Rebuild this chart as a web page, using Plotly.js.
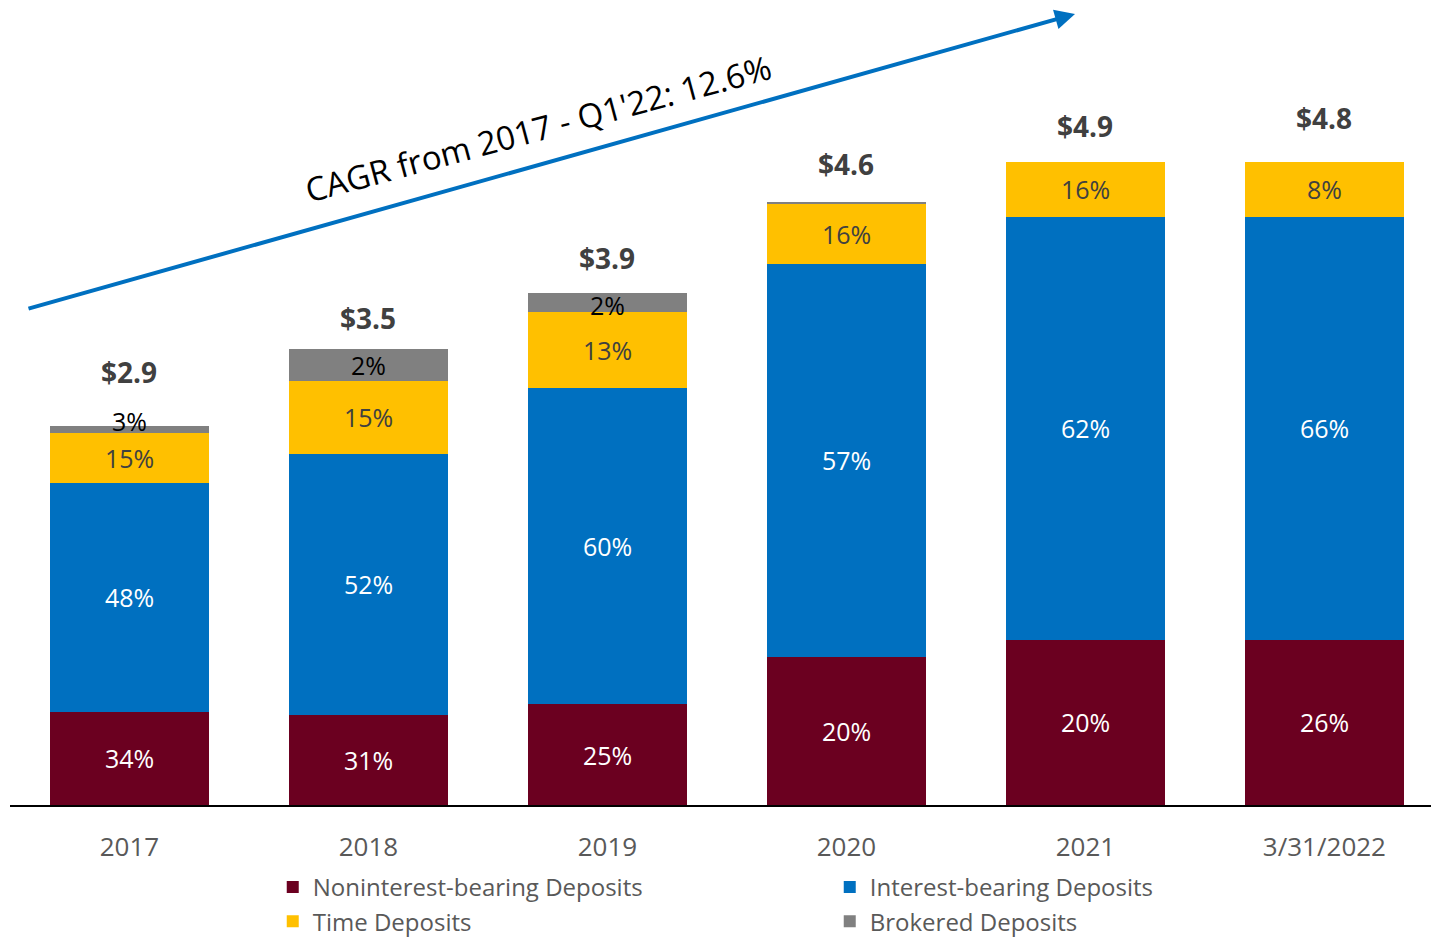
<!DOCTYPE html>
<html>
<head>
<meta charset="utf-8">
<script src="https://cdn.plot.ly/plotly-3.0.1.min.js"></script>
<style>html,body{margin:0;padding:0;background:#fff;}#chart{width:1431px;height:938px;}</style>
</head>
<body>
<div id="chart"></div>
<script>
// ---- data (billions of dollars) ----
const categories = ['2017', '2018', '2019', '2020', '2021', '3/31/2022'];
const nonInterest = [0.71, 0.69, 0.77, 1.13, 1.26, 1.26];
const interest    = [1.75, 1.99, 2.41, 3.00, 3.23, 3.23];
const timeDep     = [0.38, 0.56, 0.58, 0.46, 0.42, 0.42];
const brokered    = [0.05, 0.24, 0.15, 0.01, 0.00, 0.00];
const totalLabels = ['$2.9', '$3.5', '$3.9', '$4.6', '$4.9', '$4.8'];
const pctNonInterest = ['34%', '31%', '25%', '20%', '20%', '26%'];
const pctInterest    = ['48%', '52%', '60%', '57%', '62%', '66%'];
const pctTime        = ['15%', '15%', '13%', '16%', '16%', '8%'];
const pctBrokered    = ['3%', '2%', '2%', '', '', ''];
const seriesNames = ['Noninterest-bearing Deposits', 'Interest-bearing Deposits', 'Time Deposits', 'Brokered Deposits'];
const cagrText = "CAGR from 2017 - Q1'22: 12.6%";

// ---- styles ----
const colors = ['#6B0020', '#0070C0', '#FFC000', '#808080'];
const labelColors = ['#FFFFFF', '#FFFFFF', '#404040', '#000000'];
const FONT = '"Open Sans", "Noto Sans", sans-serif';
const totalShift = [54, 31, 35, 38, 36, 44];
const brokeredShift = [9, 0, -2, 0, 0, 0];

const series = [nonInterest, interest, timeDep, brokered];
const pcts = [pctNonInterest, pctInterest, pctTime, pctBrokered];

const traces = series.map((vals, s) => ({
  type: 'bar',
  name: seriesNames[s],
  x: categories,
  y: vals,
  marker: {color: colors[s], line: {width: 0}},
  hoverinfo: 'skip'
}));

const annotations = [];
categories.forEach((c, i) => {
  let base = 0;
  series.forEach((vals, s) => {
    const v = vals[i];
    if (pcts[s][i]) {
      annotations.push({
        x: i, y: base + v / 2, xref: 'x', yref: 'y',
        text: pcts[s][i], showarrow: false,
        yshift: s === 3 ? brokeredShift[i] : 0,
        font: {family: FONT, size: 25, color: labelColors[s]},
        xanchor: 'center', yanchor: 'middle'
      });
    }
    base += v;
  });
  annotations.push({
    x: i, y: base, xref: 'x', yref: 'y',
    text: '<b>' + totalLabels[i] + '</b>', showarrow: false,
    yshift: totalShift[i],
    font: {family: FONT, size: 28, color: '#404040'},
    xanchor: 'center', yanchor: 'middle'
  });
});

// CAGR arrow and label
annotations.push({
  xref: 'paper', yref: 'paper', x: (1075 - 10) / 1421, y: (805 - 14) / 805,
  axref: 'pixel', ayref: 'pixel', ax: -1048, ay: 295,
  showarrow: true, arrowhead: 2, arrowsize: 1, arrowwidth: 4, arrowcolor: '#0070C0',
  text: ''
});
annotations.push({
  xref: 'paper', yref: 'paper', x: (538 - 10) / 1421, y: (805 - 129) / 805,
  text: cagrText, showarrow: false, textangle: -15,
  font: {family: FONT, size: 33, color: '#000000'},
  xanchor: 'center', yanchor: 'middle'
});

const layout = {
  width: 1431, height: 938,
  margin: {l: 10, r: 0, t: 0, b: 133},
  paper_bgcolor: '#FFFFFF', plot_bgcolor: '#FFFFFF',
  barmode: 'stack', bargap: 0.335,
  showlegend: true,
  legend: {
    orientation: 'h', traceorder: 'normal',
    xref: 'paper', x: 0.1849, xanchor: 'left',
    yref: 'container', y: 1 - 865 / 938, yanchor: 'top',
    entrywidth: 512, entrywidthmode: 'pixels',
    font: {family: FONT, size: 24, color: '#595959'},
    itemclick: false
  },
  xaxis: {
    type: 'category', range: [-0.5, 5.446],
    showline: true, linecolor: '#000000', linewidth: 2,
    ticks: '', showgrid: false, zeroline: false,
    ticklabelstandoff: 18,
    tickfont: {family: FONT, size: 26, color: '#595959'}
  },
  yaxis: {
    range: [0, 6.145], visible: false, showgrid: false, zeroline: false
  },
  annotations: annotations
};

Plotly.newPlot('chart', traces, layout, {displayModeBar: false, staticPlot: true});
</script>
</body>
</html>
